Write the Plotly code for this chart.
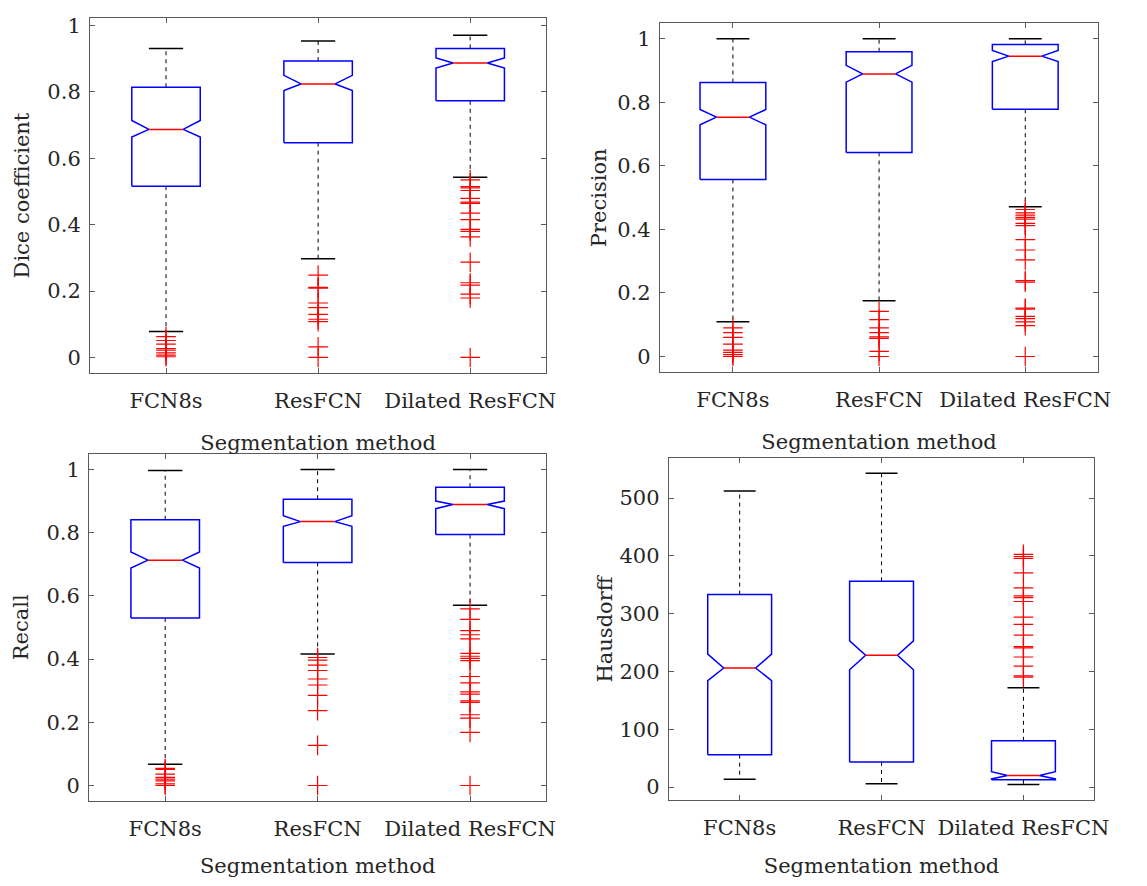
import plotly.graph_objects as go

methods = ["FCN8s", "ResFCN", "Dilated ResFCN"]

# ---- Dice coefficient ----
dice_whi = [0.931, 0.953, 0.971]
dice_q3 = [0.814, 0.893, 0.931]
dice_notch_hi = [0.714, 0.850, 0.902]
dice_med = [0.687, 0.824, 0.887]
dice_notch_lo = [0.664, 0.804, 0.872]
dice_q1 = [0.516, 0.647, 0.773]
dice_wlo = [0.078, 0.297, 0.543]
dice_out_fcn8s = [0.063, 0.051, 0.040, 0.027, 0.022, 0.014, 0.007, 0.002]
dice_out_resfcn = [0.248, 0.211, 0.209, 0.164, 0.150, 0.130, 0.115, 0.108, 0.032, 0.0]
dice_out_dilated = [0.535, 0.515, 0.511, 0.503, 0.479, 0.468, 0.464, 0.435, 0.415,
                    0.386, 0.380, 0.363, 0.287, 0.225, 0.218, 0.191, 0.179, 0.0]

# ---- Precision ----
prec_whi = [1.0, 1.0, 1.0]
prec_q3 = [0.862, 0.959, 0.982]
prec_notch_hi = [0.777, 0.916, 0.963]
prec_med = [0.753, 0.889, 0.945]
prec_notch_lo = [0.729, 0.863, 0.928]
prec_q1 = [0.557, 0.642, 0.778]
prec_wlo = [0.109, 0.175, 0.471]
prec_out_fcn8s = [0.090, 0.075, 0.060, 0.039, 0.020, 0.013, 0.006, 0.0]
prec_out_resfcn = [0.142, 0.116, 0.090, 0.075, 0.062, 0.057, 0.016, 0.0]
prec_out_dilated = [0.4625, 0.452, 0.445, 0.438, 0.432, 0.419, 0.412, 0.368, 0.335,
                    0.304, 0.239, 0.234, 0.152, 0.149, 0.126, 0.119, 0.109, 0.097, 0.0]

# ---- Recall ----
rec_whi = [0.997, 1.0, 1.0]
rec_q3 = [0.841, 0.906, 0.944]
rec_notch_hi = [0.739, 0.854, 0.900]
rec_med = [0.713, 0.835, 0.889]
rec_notch_lo = [0.688, 0.820, 0.876]
rec_q1 = [0.530, 0.706, 0.794]
rec_wlo = [0.067, 0.416, 0.570]
rec_out_fcn8s = [0.054, 0.051, 0.036, 0.026, 0.020, 0.015, 0.005, 0.0]
rec_out_resfcn = [0.405, 0.397, 0.381, 0.364, 0.337, 0.318, 0.285, 0.237, 0.127, 0.0]
rec_out_dilated = [0.559, 0.526, 0.490, 0.477, 0.464, 0.418, 0.409, 0.402, 0.395, 0.345,
                   0.325, 0.296, 0.289, 0.268, 0.263, 0.224, 0.213, 0.168, 0.0]

# ---- Hausdorff ----
haus_whi = [512, 543, 172]
haus_q3 = [333, 356, 80]
haus_notch_hi = [230, 253, 26.6]
haus_med = [206, 228, 20]
haus_notch_lo = [184, 203, 14]
haus_q1 = [56, 43.5, 12.5]
haus_wlo = [13.5, 5.7, 4.6]
haus_out_fcn8s = []
haus_out_resfcn = []
haus_out_dilated = [402.7, 398.8, 395.4, 370.6, 344.7, 330.6, 327.8, 321, 293.9, 281.6,
                    262.9, 243.1, 240.9, 225, 209.3, 192.4, 190.2]

# page layout: the browser body has an 8px margin
OFF = 8
PW, PH = 1147 - 2 * OFF, 886 - 2 * OFF


def px_x(v):
    return (v - OFF) / PW


def px_y(v):
    return 1 - (v - OFF) / PH


unit_ticks = [0, 0.2, 0.4, 0.6, 0.8, 1]
unit_text = ["0", "0.2", "0.4", "0.6", "0.8", "1"]

panels = [
    dict(label="Dice coefficient", whi=dice_whi, q3=dice_q3, nhi=dice_notch_hi, med=dice_med,
         nlo=dice_notch_lo, q1=dice_q1, wlo=dice_wlo,
         out=[dice_out_fcn8s, dice_out_resfcn, dice_out_dilated],
         box=(91, 553, 14, 377), ylab_x=22,
         yrange=[-0.048, 1.023], tickvals=unit_ticks, ticktext=unit_text),
    dict(label="Precision", whi=prec_whi, q3=prec_q3, nhi=prec_notch_hi, med=prec_med,
         nlo=prec_notch_lo, q1=prec_q1, wlo=prec_wlo,
         out=[prec_out_fcn8s, prec_out_resfcn, prec_out_dilated],
         box=(668, 1112, 19, 376), ylab_x=606,
         yrange=[-0.05, 1.05], tickvals=unit_ticks, ticktext=unit_text),
    dict(label="Recall", whi=rec_whi, q3=rec_q3, nhi=rec_notch_hi, med=rec_med,
         nlo=rec_notch_lo, q1=rec_q1, wlo=rec_wlo,
         out=[rec_out_fcn8s, rec_out_resfcn, rec_out_dilated],
         box=(90, 553, 459, 814), ylab_x=22,
         yrange=[-0.05, 1.05], tickvals=unit_ticks, ticktext=unit_text),
    dict(label="Hausdorff", whi=haus_whi, q3=haus_q3, nhi=haus_notch_hi, med=haus_med,
         nlo=haus_notch_lo, q1=haus_q1, wlo=haus_wlo,
         out=[haus_out_fcn8s, haus_out_resfcn, haus_out_dilated],
         box=(677, 1108, 463, 813), ylab_x=612,
         yrange=[-23, 570], tickvals=[0, 100, 200, 300, 400, 500],
         ticktext=["0", "100", "200", "300", "400", "500"]),
]

W = 0.225          # half box width (x units)
BLUE = "#0000ff"
RED = "#ff0000"
FONT = "DejaVu Serif"
TXT = "#262626"
FRAME = "#5a5a5a"

fig = go.Figure()
annotations = []

for i, p in enumerate(panels):
    xa = "x" if i == 0 else f"x{i + 1}"
    ya = "y" if i == 0 else f"y{i + 1}"
    bx, by, mx, my, wx, wy, cx, cy, ox, oy = [], [], [], [], [], [], [], [], [], []
    for k in range(3):
        x = k + 1
        q1, q3, med, nlo, nhi = p["q1"][k], p["q3"][k], p["med"][k], p["nlo"][k], p["nhi"][k]
        bx += [x - W, x - W, x - W / 2, x - W, x - W, x + W, x + W, x + W / 2, x + W, x + W, x - W, None]
        by += [q1, nlo, med, nhi, q3, q3, nhi, med, nlo, q1, q1, None]
        mx += [x - W / 2, x + W / 2, None]
        my += [med, med, None]
        wx += [x, x, None, x, x, None]
        wy += [q3, p["whi"][k], None, q1, p["wlo"][k], None]
        cx += [x - W / 2, x + W / 2, None, x - W / 2, x + W / 2, None]
        cy += [p["whi"][k], p["whi"][k], None, p["wlo"][k], p["wlo"][k], None]
        ox += [x] * len(p["out"][k])
        oy += list(p["out"][k])
    fig.add_trace(go.Scatter(x=wx, y=wy, mode="lines", xaxis=xa, yaxis=ya,
                             line=dict(color="black", width=1, dash="4px,4px"),
                             showlegend=False, hoverinfo="skip"))
    fig.add_trace(go.Scatter(x=cx, y=cy, mode="lines", xaxis=xa, yaxis=ya,
                             line=dict(color="black", width=1.5),
                             showlegend=False, hoverinfo="skip"))
    fig.add_trace(go.Scatter(x=bx, y=by, mode="lines", xaxis=xa, yaxis=ya,
                             line=dict(color=BLUE, width=1.5),
                             showlegend=False, hoverinfo="skip"))
    fig.add_trace(go.Scatter(x=mx, y=my, mode="lines", xaxis=xa, yaxis=ya,
                             line=dict(color=RED, width=1.5),
                             showlegend=False, hoverinfo="skip"))
    fig.add_trace(go.Scatter(x=ox, y=oy, mode="markers", xaxis=xa, yaxis=ya,
                             marker=dict(symbol="cross-thin", size=14, color=RED,
                                         line=dict(color=RED, width=1.2)),
                             showlegend=False, hoverinfo="y"))

    L, R, T, B = p["box"]
    axis_common = dict(showline=True, linecolor=FRAME, linewidth=1, mirror="ticks",
                       ticks="inside", ticklen=5, tickcolor=FRAME, showgrid=False,
                       zeroline=False, tickfont=dict(family=FONT, size=21, color=TXT))
    xkey = "xaxis" if i == 0 else f"xaxis{i + 1}"
    ykey = "yaxis" if i == 0 else f"yaxis{i + 1}"
    fig.update_layout({
        xkey: dict(domain=[px_x(L), px_x(R)], range=[0.5, 3.5], anchor=ya,
                   tickvals=[1, 2, 3], ticktext=methods, ticklabelstandoff=8,
                   title=dict(text="Segmentation method", font=dict(family=FONT, size=21, color=TXT),
                              standoff=23),
                   **axis_common),
        ykey: dict(domain=[px_y(B), px_y(T)], range=p["yrange"], anchor=xa,
                   tickvals=p["tickvals"], ticktext=p["ticktext"], ticklabelstandoff=4,
                   **axis_common),
    })
    annotations.append(dict(text=p["label"], xref="paper", yref="paper",
                            x=px_x(p["ylab_x"]), y=px_y((T + B) / 2),
                            xanchor="center", yanchor="middle", textangle=-90,
                            showarrow=False, font=dict(family=FONT, size=21, color=TXT)))

fig.update_layout(width=PW, height=PH, margin=dict(l=0, r=0, t=0, b=0),
                  paper_bgcolor="white", plot_bgcolor="white", showlegend=False,
                  annotations=annotations)

fig.write_html("out.html")
